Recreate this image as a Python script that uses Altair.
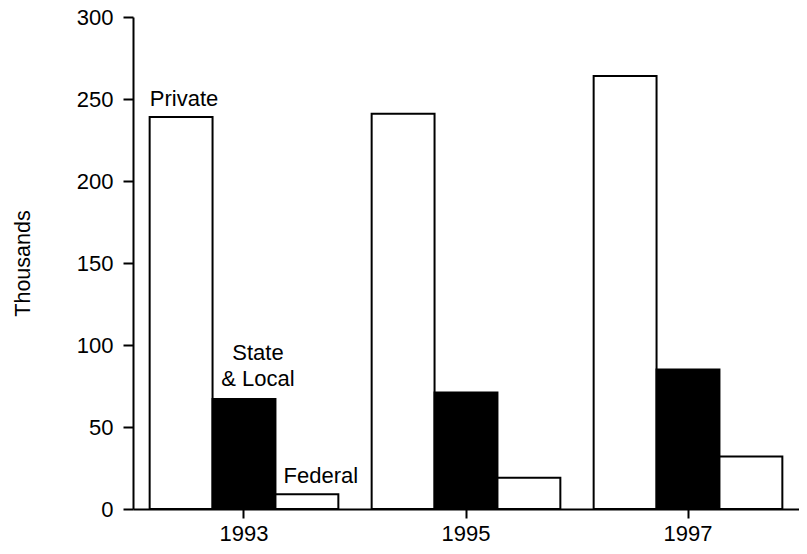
import altair as alt
import pandas as pd

years = ["1993", "1995", "1997"]
series = ["Private", "State & Local", "Federal"]
private = [239, 241, 264]
state_local = [67, 71, 85]
federal = [9, 19, 32]

rows = []
for i, y in enumerate(years):
    rows.append({"year": y, "series": "Private", "value": private[i]})
    rows.append({"year": y, "series": "State & Local", "value": state_local[i]})
    rows.append({"year": y, "series": "Federal", "value": federal[i]})
df = pd.DataFrame(rows)

# labels placed over the 1993 group
label_year = "1993"
labels = pd.DataFrame([
    {"year": label_year, "series": "Private", "value": private[0], "label": "Private"},
    {"year": label_year, "series": "State & Local", "value": state_local[0], "label": "State\n& Local"},
    {"year": label_year, "series": "Federal", "value": federal[0], "label": "Federal"},
])

FONT = "Liberation Sans"
FS = 22

x_enc = alt.X("year:N", sort=years,
              scale=alt.Scale(paddingInner=0.15, paddingOuter=0.075),
              axis=alt.Axis(title=None, labelAngle=0, tickSize=9, tickWidth=2,
                            domainWidth=2, labelPadding=5))
xoff = alt.XOffset("series:N", sort=series,
                   scale=alt.Scale(paddingInner=0, paddingOuter=0))
y_enc = alt.Y("value:Q", scale=alt.Scale(domain=[0, 300], nice=False),
              axis=alt.Axis(title="Thousands", values=[0, 50, 100, 150, 200, 250, 300],
                            tickSize=10, tickWidth=2, domainWidth=2, labelPadding=10,
                            titleX=-110, titleY=246, titleAngle=-90,
                            titleAlign="center", titleBaseline="middle", grid=False))

bars = alt.Chart(df).mark_bar(stroke="black", strokeWidth=2).encode(
    x=x_enc, xOffset=xoff, y=y_enc,
    fill=alt.Fill("series:N", scale=alt.Scale(domain=series, range=["white", "black", "white"]),
                  legend=None),
)

def lab(name, dx, dy):
    return alt.Chart(labels).transform_filter(alt.datum.series == name).mark_text(
        font=FONT, fontSize=22, color="black", align="center", baseline="middle",
        dx=dx, dy=dy, lineBreak="\n", lineHeight=26,
    ).encode(x=alt.X("year:N", sort=years), xOffset=alt.XOffset("series:N", sort=series),
             y="value:Q", text="label:N")

chart = alt.layer(
    bars,
    lab("Private", 3, -18),
    lab("State & Local", 14, -46),
    lab("Federal", 14, -18),
).properties(
    width=666, height=492,
    autosize=alt.AutoSizeParams(type="none"),
    padding={"left": 125, "top": 9, "right": 0, "bottom": 37},
).configure_view(stroke=None).configure_axis(
    labelFont=FONT, titleFont=FONT, labelFontSize=FS, titleFontSize=21.5,
    labelColor="black", titleColor="black", domainColor="black", tickColor="black",
    titleFontWeight="normal",
)

chart.save("out.html", embed_options={"renderer": "svg", "actions": False})
